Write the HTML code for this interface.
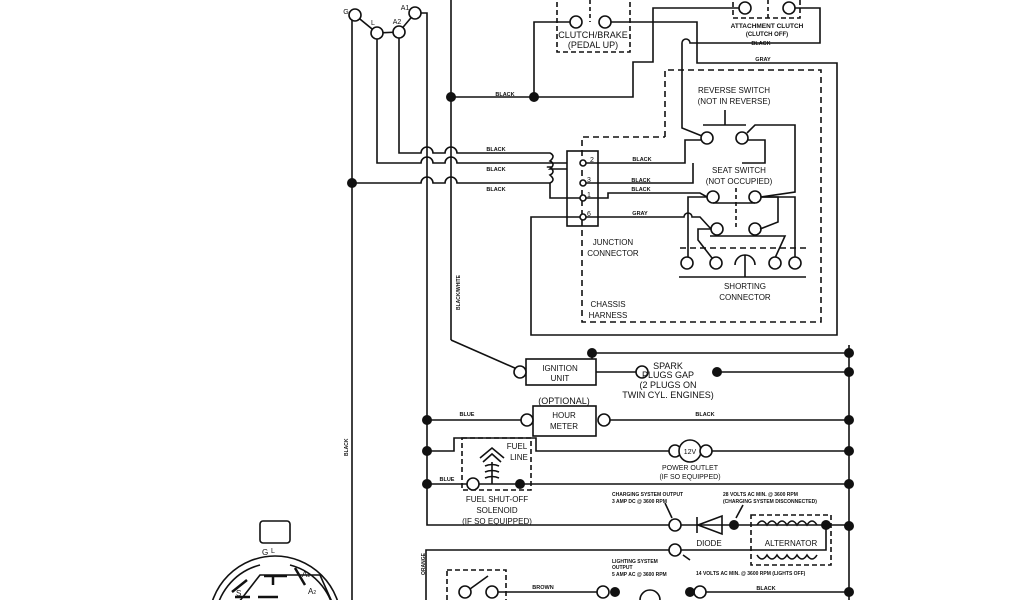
<!DOCTYPE html>
<html><head><style>
html,body{margin:0;padding:0;background:#fff;width:1024px;height:600px;overflow:hidden;}
svg{display:block;}
text{font-family:"Liberation Sans",sans-serif;fill:#111;}
.t{font-size:9px;text-anchor:middle;}
.s{font-size:5px;font-weight:bold;}
.m{font-size:5.5px;text-anchor:middle;font-weight:bold;}
</style></head><body>
<svg width="1024" height="600" viewBox="0 0 1024 600" xmlns="http://www.w3.org/2000/svg">
<g fill="none" stroke="#111" stroke-width="1.6">
<line x1="352" y1="20" x2="352" y2="600"/>
<line x1="451" y1="0" x2="451" y2="340"/>
<path d="M451 340 L517 369"/>
<path d="M421 13 H427 V525 H673"/>
<path d="M355 15 L377 33 L399 32 L415 13"/>
<circle cx="355" cy="15" r="6" fill="#fff"/>
<circle cx="377" cy="33" r="6" fill="#fff"/>
<circle cx="399" cy="32" r="6" fill="#fff"/>
<circle cx="415" cy="13" r="6" fill="#fff"/>
<path d="M399 38 V153 H421 a6 6 0 0 1 12 0 H445 a6 6 0 0 1 12 0 H550 q6 3 0 8 q6 3 0 8 H567"/>
<path d="M377 39 V163 H421 a6 6 0 0 1 12 0 H445 a6 6 0 0 1 12 0 H567"/>
<path d="M352 183 H421 a6 6 0 0 1 12 0 H445 a6 6 0 0 1 12 0 H550 q6 -3 0 -8 q6 -3 0 -8 q-6 0 2 0"/>
<path d="M550 183 V198 H580"/>
<path d="M451 97 H633 V62 H653 V8 H740"/>
<path d="M534 97 V22 H571"/>
<path d="M610 22 H697 V63 H837 V335 H531 V217 H580"/>
<path d="M794 8 H820 V43 H690 a4 4 0 0 0 -8 0 V128 L702 136"/>
<rect x="557" y="-5" width="73" height="57" stroke-dasharray="5,3"/>
<line x1="590" y1="0" x2="590" y2="22" stroke-dasharray="4,3"/>
<circle cx="576" cy="22" r="6" fill="#fff"/>
<circle cx="605" cy="22" r="6" fill="#fff"/>
<rect x="733" y="-5" width="67" height="23" stroke-dasharray="5,3"/>
<line x1="768" y1="0" x2="768" y2="18" stroke-dasharray="4,3"/>
<circle cx="745" cy="8" r="6" fill="#fff"/>
<circle cx="789" cy="8" r="6" fill="#fff"/>
<path d="M665 137 V70 H821 V322 H582 V137 H665" stroke-dasharray="6,4"/>
<rect x="567" y="151" width="31" height="75"/>
<circle cx="583" cy="163" r="3" fill="#fff"/>
<circle cx="583" cy="183" r="3" fill="#fff"/>
<circle cx="583" cy="198" r="3" fill="#fff"/>
<circle cx="583" cy="217" r="3" fill="#fff"/>
<path d="M703 125 H746 M725 110 V125"/>
<circle cx="707" cy="138" r="6" fill="#fff"/>
<circle cx="742" cy="138" r="6" fill="#fff"/>
<path d="M586 163 H685 V140 H701"/>
<path d="M747 133 L755 125 H795 V192 L761 197"/>
<path d="M748 140 H765 V163 H742"/>
<path d="M586 183 H693 V163"/>
<path d="M586 198 H608 V193 H700 L707 197"/>
<path d="M586 217 H684 a4 4 0 0 1 8 0 H700 L711 229"/>
<circle cx="713" cy="197" r="6" fill="#fff"/>
<circle cx="755" cy="197" r="6" fill="#fff"/>
<path d="M713 203 H755"/>
<line x1="736" y1="188" x2="736" y2="229" stroke-dasharray="4,3"/>
<circle cx="717" cy="229" r="6" fill="#fff"/>
<circle cx="755" cy="229" r="6" fill="#fff"/>
<path d="M710 236 H785 L775 258"/>
<path d="M707 197 H688 V258"/>
<path d="M761 197 H778 V222 L760 229"/>
<path d="M761 197 H795 V258"/>
<path d="M711 229 H698 V240 L712 258"/>
<line x1="680" y1="248" x2="806" y2="248" stroke-dasharray="6,4"/>
<circle cx="687" cy="263" r="6" fill="#fff"/>
<circle cx="716" cy="263" r="6" fill="#fff"/>
<circle cx="775" cy="263" r="6" fill="#fff"/>
<circle cx="795" cy="263" r="6" fill="#fff"/>
<path d="M735 265 a10 10 0 0 1 20 0 M745 255 V277"/>
<line x1="679" y1="277" x2="806" y2="277"/>
<path d="M849 345 V600"/>
<path d="M592 353 H849 M592 353 V359"/>
<rect x="526" y="359" width="70" height="26"/>
<circle cx="520" cy="372" r="6" fill="#fff"/>
<path d="M596 372 H636"/>
<circle cx="642" cy="372" r="6" fill="#fff"/>
<path d="M717 372 H849"/>
<path d="M427 420 H521 M610 420 H849"/>
<rect x="533" y="406" width="63" height="30"/>
<circle cx="527" cy="420" r="6" fill="#fff"/>
<circle cx="604" cy="420" r="6" fill="#fff"/>
<path d="M427 451 H454 V438 H536 V451 H669 M712 451 H849"/>
<circle cx="675" cy="451" r="6" fill="#fff"/>
<circle cx="690" cy="451" r="11" fill="#fff"/>
<circle cx="706" cy="451" r="6" fill="#fff"/>
<rect x="462" y="438" width="69" height="52" stroke-dasharray="5,3" fill="none"/>
<path d="M427 484 H467 M479 484 H849"/>
<circle cx="473" cy="484" r="6" fill="#fff"/>
<path d="M480 458 L492 448 L504 458 M483 462 L492 454 L501 462 M492 462 V484"/>
<path d="M485 466 q7 -3 14 0 M485 472 q7 -3 14 0 M485 478 q7 -3 14 0"/>
<circle cx="675" cy="525" r="6" fill="#fff"/>
<path d="M681 525 H734"/>
<path d="M697 517 V533 M698 525 L722 516 V534 Z"/>
<path d="M734 525 H849"/>
<rect x="751" y="515" width="80" height="50" stroke-dasharray="5,3"/>
<path d="M757 525 q5 -8 10 0 q5 -8 10 0 q5 -8 10 0 q5 -8 10 0 q5 -8 10 0 q5 -8 10 0"/>
<path d="M757 555 q5 8 10 0 q5 8 10 0 q5 8 10 0 q5 8 10 0 q5 8 10 0 q5 8 10 0"/>
<path d="M826 525 V550 H681"/>
<circle cx="675" cy="550" r="6" fill="#fff"/>
<path d="M669 550 H426 V600"/>
<path d="M665 503 L672 518 M743 505 L736 518 M683 555 L690 560"/>
<rect x="447" y="570" width="59" height="40" stroke-dasharray="5,3"/>
<circle cx="465" cy="592" r="6" fill="#fff"/>
<circle cx="492" cy="592" r="6" fill="#fff"/>
<path d="M470 589 L488 576"/>
<path d="M498 592 H597 M706 592 H849"/>
<circle cx="603" cy="592" r="6" fill="#fff"/>
<path d="M640 600 a10 10 0 0 1 20 0"/>
<circle cx="700" cy="592" r="6" fill="#fff"/>
<circle cx="275" cy="622" r="66"/>
<path d="M215 622 a60 60 0 0 1 45 -57 M290 565 a60 60 0 0 1 45 57"/>
<rect x="260" y="521" width="30" height="22" rx="3" fill="#fff"/>
<path d="M225 620 L260 575 H320 L340 620"/>
<path d="M232 592 L247 580 M295 568 L305 585 M264 576 H287 M273 576 V585" stroke-width="2.5"/>
<path d="M235 597 H250 M258 597 H278" stroke-width="2.5"/>
</g>
<g fill="#111">
<circle cx="352" cy="183" r="5"/><circle cx="451" cy="97" r="5"/><circle cx="534" cy="97" r="5"/>
<circle cx="592" cy="353" r="5"/><circle cx="717" cy="372" r="5"/>
<circle cx="849" cy="353" r="5"/><circle cx="849" cy="372" r="5"/><circle cx="849" cy="420" r="5"/>
<circle cx="849" cy="451" r="5"/><circle cx="849" cy="484" r="5"/><circle cx="849" cy="526" r="5"/><circle cx="849" cy="592" r="5"/>
<circle cx="427" cy="420" r="5"/><circle cx="427" cy="451" r="5"/><circle cx="427" cy="484" r="5"/>
<circle cx="520" cy="484" r="5"/><circle cx="734" cy="525" r="5"/><circle cx="826" cy="525" r="5"/>
<circle cx="615" cy="592" r="5"/><circle cx="690" cy="592" r="5"/>
</g>
<text x="346" y="14" class="t" style="font-size:7px">G</text>
<text x="373" y="25" class="t" style="font-size:7px">L</text>
<text x="397" y="24" class="t" style="font-size:7px">A2</text>
<text x="405" y="10" class="t" style="font-size:7px">A1</text>
<text x="593" y="38" class="t">CLUTCH/BRAKE</text>
<text x="593" y="48" class="t">(PEDAL UP)</text>
<text x="767" y="28" class="m" style="font-size:6.5px">ATTACHMENT CLUTCH</text>
<text x="767" y="36" class="m" style="font-size:6px">(CLUTCH OFF)</text>
<text x="761" y="45" class="m">BLACK</text>
<text x="763" y="61" class="m">GRAY</text>
<text x="505" y="96" class="m">BLACK</text>
<text x="734" y="93" class="t" style="font-size:8px">REVERSE SWITCH</text>
<text x="734" y="104" class="t" style="font-size:8px">(NOT IN REVERSE)</text>
<text x="496" y="151" class="m">BLACK</text>
<text x="496" y="171" class="m">BLACK</text>
<text x="496" y="191" class="m">BLACK</text>
<text x="642" y="161" class="m">BLACK</text>
<text x="641" y="182" class="m">BLACK</text>
<text x="641" y="191" class="m">BLACK</text>
<text x="640" y="215" class="m">GRAY</text>
<text x="590" y="162" style="font-size:7px">2</text>
<text x="587" y="182" style="font-size:7px">3</text>
<text x="587" y="197" style="font-size:7px">1</text>
<text x="587" y="216" style="font-size:7px">6</text>
<text x="739" y="173" class="t" style="font-size:8px">SEAT SWITCH</text>
<text x="739" y="184" class="t" style="font-size:8px">(NOT OCCUPIED)</text>
<text x="613" y="245" class="t" style="font-size:8px">JUNCTION</text>
<text x="613" y="256" class="t" style="font-size:8px">CONNECTOR</text>
<text x="745" y="289" class="t" style="font-size:8px">SHORTING</text>
<text x="745" y="300" class="t" style="font-size:8px">CONNECTOR</text>
<text x="608" y="307" class="t" style="font-size:8px">CHASSIS</text>
<text x="608" y="318" class="t" style="font-size:8px">HARNESS</text>
<text class="s" transform="translate(460,310) rotate(-90)">BLACK/WHITE</text>
<text class="s" transform="translate(348,456) rotate(-90)">BLACK</text>
<text class="s" transform="translate(425,575) rotate(-90)">ORANGE</text>
<text x="560" y="371" class="t" style="font-size:8px">IGNITION</text>
<text x="560" y="381" class="t" style="font-size:8px">UNIT</text>
<text x="668" y="369" class="t">SPARK</text>
<text x="668" y="378" class="t">PLUGS GAP</text>
<text x="668" y="388" class="t">(2 PLUGS ON</text>
<text x="668" y="398" class="t">TWIN CYL. ENGINES)</text>
<text x="564" y="404" class="t">(OPTIONAL)</text>
<text x="564" y="418" class="t" style="font-size:8px">HOUR</text>
<text x="564" y="429" class="t" style="font-size:8px">METER</text>
<text x="467" y="416" class="m">BLUE</text>
<text x="705" y="416" class="m">BLACK</text>
<text x="690" y="454" class="t" style="font-size:7px">12V</text>
<text x="690" y="470" class="t" style="font-size:7px">POWER OUTLET</text>
<text x="690" y="479" class="t" style="font-size:7px">(IF SO EQUIPPED)</text>
<text x="517" y="449" class="t" style="font-size:8px">FUEL</text>
<text x="519" y="460" class="t" style="font-size:8px">LINE</text>
<text x="447" y="481" class="m">BLUE</text>
<text x="497" y="502" class="t" style="font-size:8px">FUEL SHUT-OFF</text>
<text x="497" y="513" class="t" style="font-size:8px">SOLENOID</text>
<text x="497" y="524" class="t" style="font-size:8px">(IF SO EQUIPPED)</text>
<text x="612" y="496" class="s">CHARGING SYSTEM OUTPUT</text>
<text x="612" y="503" class="s">3 AMP DC @ 3600 RPM</text>
<text x="723" y="496" class="s">28 VOLTS AC MIN. @ 3600 RPM</text>
<text x="723" y="503" class="s">(CHARGING SYSTEM DISCONNECTED)</text>
<text x="709" y="546" class="t" style="font-size:8px">DIODE</text>
<text x="791" y="546" class="t" style="font-size:8px">ALTERNATOR</text>
<text x="612" y="563" class="s">LIGHTING SYSTEM</text>
<text x="612" y="569" class="s">OUTPUT</text>
<text x="612" y="576" class="s">5 AMP AC @ 3600 RPM</text>
<text x="696" y="575" class="s">14 VOLTS AC MIN. @ 3600 RPM (LIGHTS OFF)</text>
<text x="543" y="589" class="m">BROWN</text>
<text x="766" y="590" class="m">BLACK</text>
<text x="262" y="555" style="font-size:8px">G</text>
<text x="271" y="553" style="font-size:7px">L</text>
<text x="302" y="577" style="font-size:8px">A<tspan font-size="5">1</tspan></text>
<text x="308" y="594" style="font-size:8px">A<tspan font-size="5">2</tspan></text>
<text x="236" y="596" style="font-size:8px">S</text>
</svg>
</body></html>
